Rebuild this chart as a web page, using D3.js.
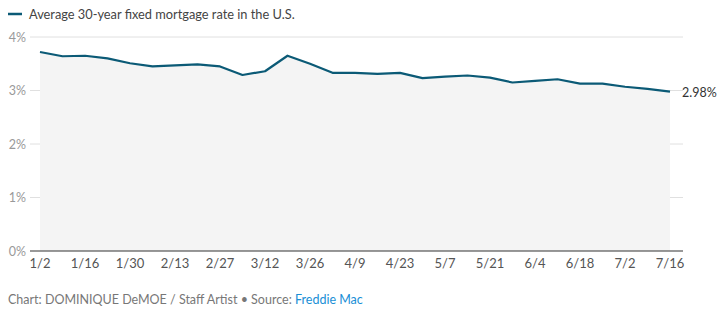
<!DOCTYPE html>
<html><head><meta charset="utf-8">
<script src="https://cdn.jsdelivr.net/npm/d3@7"></script>
<style>
body{margin:0;background:#fff;font-family:Lato,"Open Sans",sans-serif;}
svg text{font-family:Lato,"Open Sans",sans-serif;}
</style></head><body>
<svg id="c" width="728" height="325"></svg>
<script>
const dates = ["1/2","1/9","1/16","1/23","1/30","2/6","2/13","2/20","2/27","3/5","3/12","3/19","3/26","4/2","4/9","4/16","4/23","4/30","5/7","5/14","5/21","5/28","6/4","6/11","6/18","6/25","7/2","7/9","7/16"];
const rates = [3.72,3.64,3.65,3.60,3.51,3.45,3.47,3.49,3.45,3.29,3.36,3.65,3.50,3.33,3.33,3.31,3.33,3.23,3.26,3.28,3.24,3.15,3.18,3.21,3.13,3.13,3.07,3.03,2.98];
const xTickLabels = ["1/2","1/16","1/30","2/13","2/27","3/12","3/26","4/9","4/23","5/7","5/21","6/4","6/18","7/2","7/16"];
const yTicks = [0,1,2,3,4];
const seriesName = "Average 30-year fixed mortgage rate in the U.S.";
const lineColor = "#0b5a76";

const svg = d3.select("#c");
const x = d3.scalePoint().domain(dates).range([40, 670]);
const y = d3.scaleLinear().domain([0,4]).range([251, 37]);

svg.append("g").selectAll("line").data(yTicks.filter(d=>d>0)).join("line")
  .attr("x1",30).attr("x2",683).attr("y1",d=>y(d)).attr("y2",d=>y(d))
  .attr("stroke","#e0e0e0").attr("stroke-width",1);

const data = dates.map((d,i)=>({d, v:rates[i]}));
svg.append("path").datum(data)
  .attr("d", d3.area().x(p=>x(p.d)).y0(y(0)).y1(p=>y(p.v)))
  .attr("fill","#f4f4f4");

svg.append("g").selectAll("text").data(yTicks).join("text")
  .attr("x",26).attr("y",d=>y(d)+4.5).attr("text-anchor","end")
  .attr("font-size",12.5).attr("fill","#999").text(d=>d+"%");

svg.append("line").attr("x1",30).attr("x2",683).attr("y1",y(0)).attr("y2",y(0))
  .attr("stroke","#333").attr("stroke-width",1.2);

svg.append("path").datum(data)
  .attr("d", d3.line().x(p=>x(p.d)).y(p=>y(p.v)))
  .attr("fill","none").attr("stroke",lineColor).attr("stroke-width",2.2)
  .attr("stroke-linejoin","round");

svg.append("g").selectAll("text").data(xTickLabels).join("text")
  .attr("x",d=>x(d)).attr("y",268).attr("text-anchor","middle")
  .attr("font-size",13).attr("fill","#555").text(d=>d);

const last = data[data.length-1];
svg.append("text").attr("x",x(last.d)+12).attr("y",y(last.v)+5)
  .attr("font-size",12.5).attr("fill","#333").text(last.v.toFixed(2)+"%");

svg.append("line").attr("x1",8).attr("x2",22).attr("y1",14).attr("y2",14)
  .attr("stroke",lineColor).attr("stroke-width",2.5);
svg.append("text").attr("x",29).attr("y",18.5).attr("font-size",12.8).attr("fill","#444").text(seriesName);

const f = svg.append("text").attr("x",8).attr("y",304).attr("font-size",12.5).attr("fill","#777");
f.append("tspan").text("Chart: DOMINIQUE DeMOE / Staff Artist \u2022 Source: ");
f.append("tspan").attr("fill","#1a8fd6").text("Freddie Mac");
</script>
</body></html>
